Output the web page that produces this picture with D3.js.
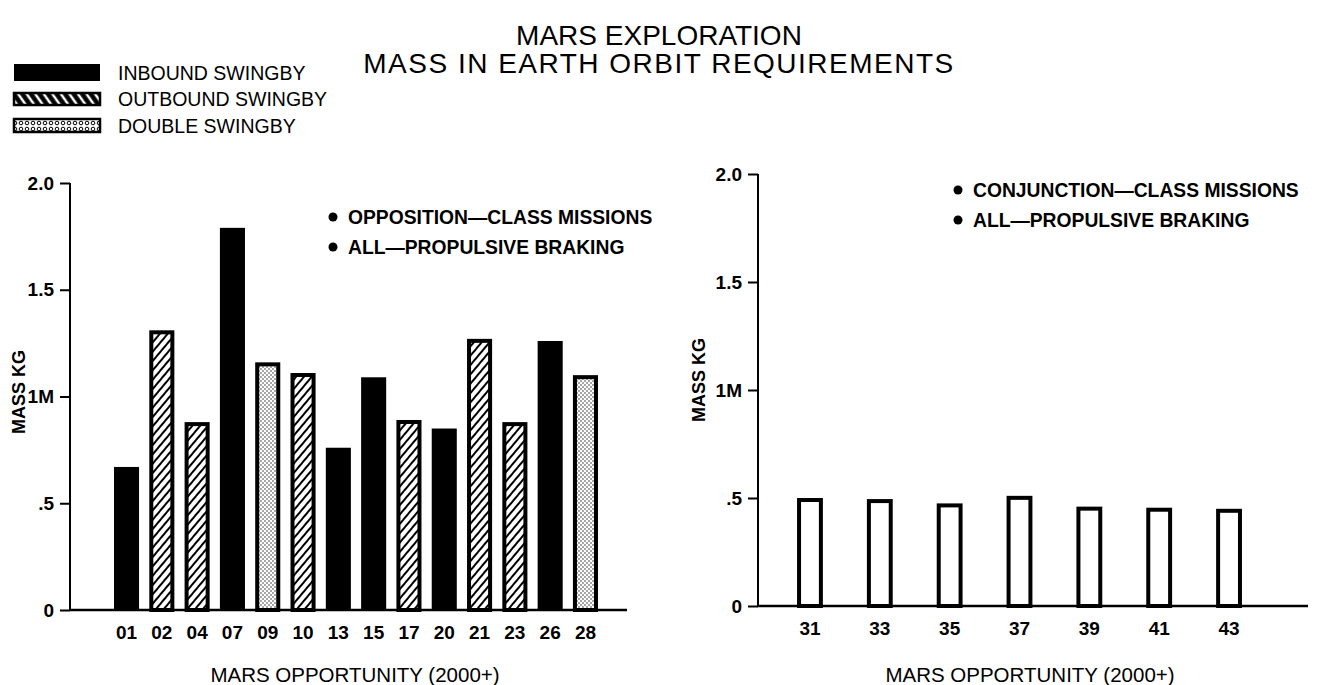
<!DOCTYPE html>
<html>
<head>
<meta charset="utf-8">
<script src="https://cdn.jsdelivr.net/npm/d3@7"></script>
<style>
  body { margin: 0; background: #fff; }
  svg { font-family: "Liberation Sans", Arial, sans-serif; }
</style>
</head>
<body>
<svg width="1317" height="685"></svg>
<script>
// opposition class (left panel)
var leftCats = ["01","02","04","07","09","10","13","15","17","20","21","23","26","28"];
var leftValues = [0.67, 1.31, 0.88, 1.79, 1.16, 1.11, 0.76, 1.09, 0.89, 0.85, 1.27, 0.88, 1.26, 1.10];
var leftTypes = ["in","out","out","in","double","out","in","in","out","in","out","out","in","double"];

// conjunction class (right panel)
var rightCats = ["31","33","35","37","39","41","43"];
var rightValues = [0.50, 0.495, 0.475, 0.51, 0.46, 0.455, 0.45];

var yTicks = [0, 0.5, 1, 1.5, 2];
var yTickLabels = ["0", ".5", "1M", "1.5", "2.0"];

var legendKeys = ["in", "out", "double"];
var legendLabels = ["INBOUND SWINGBY", "OUTBOUND SWINGBY", "DOUBLE SWINGBY"];

var leftNotes = ["OPPOSITION\u2014CLASS MISSIONS", "ALL\u2014PROPULSIVE BRAKING"];
var rightNotes = ["CONJUNCTION\u2014CLASS MISSIONS", "ALL\u2014PROPULSIVE BRAKING"];

var svg = d3.select("svg");

// patterns
var defs = svg.append("defs");
var hatch = defs.append("pattern")
    .attr("id", "hatch")
    .attr("patternUnits", "userSpaceOnUse")
    .attr("width", 6).attr("height", 6)
    .attr("patternTransform", "rotate(40)");
hatch.append("rect").attr("width", 6).attr("height", 6).attr("fill", "#fff");
hatch.append("line").attr("x1", 1).attr("y1", 0).attr("x2", 1).attr("y2", 6)
    .attr("stroke", "#000").attr("stroke-width", 2);

var dots = defs.append("pattern")
    .attr("id", "dots")
    .attr("patternUnits", "userSpaceOnUse")
    .attr("width", 4).attr("height", 4);
dots.append("rect").attr("width", 4).attr("height", 4).attr("fill", "#fff");
dots.append("circle").attr("cx", 1).attr("cy", 1).attr("r", 0.65).attr("fill", "#000");
dots.append("circle").attr("cx", 3).attr("cy", 3).attr("r", 0.65).attr("fill", "#000");

// legend hatch: white strokes on black
var hatchInv = defs.append("pattern")
    .attr("id", "hatchInv")
    .attr("patternUnits", "userSpaceOnUse")
    .attr("width", 7).attr("height", 7)
    .attr("patternTransform", "rotate(-35)");
hatchInv.append("rect").attr("width", 7).attr("height", 7).attr("fill", "#000");
hatchInv.append("line").attr("x1", 3).attr("y1", 0).attr("x2", 3).attr("y2", 7)
    .attr("stroke", "#fff").attr("stroke-width", 2.5);

var legendDots = defs.append("pattern")
    .attr("id", "legendDots")
    .attr("patternUnits", "userSpaceOnUse")
    .attr("width", 6).attr("height", 6);
legendDots.append("rect").attr("width", 6).attr("height", 6).attr("fill", "#fff");
legendDots.append("circle").attr("cx", 3).attr("cy", 3).attr("r", 1.8)
    .attr("fill", "none").attr("stroke", "#000").attr("stroke-width", 1);

function fillFor(t) {
  if (t == "in") return "#000";
  if (t == "out") return "url(#hatch)";
  return "url(#dots)";
}

// title
svg.append("text").attr("x", 659).attr("y", 45).attr("text-anchor", "middle")
    .style("font-size", "28px").text("MARS EXPLORATION");
svg.append("text").attr("x", 659).attr("y", 73).attr("text-anchor", "middle")
    .style("font-size", "28px").style("letter-spacing", "1.5px")
    .text("MASS IN EARTH ORBIT REQUIREMENTS");

// legend
var legendY = [64, 93, 119];
var legendH = [17, 12, 13];
var lg = svg.append("g").selectAll("g").data(legendKeys).enter().append("g");
lg.append("rect")
    .attr("x", 14).attr("width", 86)
    .attr("y", function(d, i) { return legendY[i]; })
    .attr("height", function(d, i) { return legendH[i]; })
    .attr("fill", function(d) { return d == "in" ? "#000" : d == "out" ? "url(#hatchInv)" : "url(#legendDots)"; })
    .attr("stroke", "#000")
    .attr("stroke-width", function(d) { return d == "in" ? 0 : 2.5; });
lg.append("text")
    .attr("x", 118)
    .attr("y", function(d, i) { return legendY[i] + legendH[i] / 2 + 7; })
    .style("font-size", "19.5px")
    .text(function(d, i) { return legendLabels[i]; });

function drawPanel(opt) {
  var g = svg.append("g");
  var y = d3.scaleLinear().domain([0, 2]).range([opt.y0, opt.y1]);
  var x = d3.scaleBand().domain(opt.cats).range([opt.axisX, opt.bandEnd])
      .paddingInner(opt.padIn).paddingOuter(opt.padOut);

  // y axis
  var yAxis = d3.axisLeft(y).tickValues(yTicks)
      .tickFormat(function(d, i) { return yTickLabels[i]; })
      .tickSize(10).tickPadding(6);
  var ya = g.append("g").attr("transform", "translate(" + opt.axisX + ",0)").call(yAxis);
  ya.select(".domain").attr("d", "M0," + y(2) + "V" + y(0)).attr("stroke-width", 2);
  ya.selectAll(".tick line").attr("stroke-width", 2);
  ya.selectAll(".tick text").style("font-size", "19px").style("font-weight", "bold")
      .style("font-family", "Liberation Sans, Arial, sans-serif").attr("fill", "#000");

  // baseline
  g.append("line").attr("x1", opt.axisX).attr("x2", opt.baseEnd)
      .attr("y1", y(0)).attr("y2", y(0)).attr("stroke", "#000").attr("stroke-width", 2.5);

  // bars
  var sw = 4;
  g.selectAll("rect.bar").data(opt.values).enter().append("rect")
      .attr("class", "bar")
      .attr("x", function(d, i) {
        var t = opt.types ? opt.types[i] : "hollow";
        return t == "in" ? x(opt.cats[i]) : x(opt.cats[i]) + sw / 2;
      })
      .attr("width", function(d, i) {
        var t = opt.types ? opt.types[i] : "hollow";
        return t == "in" ? x.bandwidth() : x.bandwidth() - sw;
      })
      .attr("y", function(d, i) {
        var t = opt.types ? opt.types[i] : "hollow";
        return t == "in" ? y(d) : y(d) + sw / 2;
      })
      .attr("height", function(d, i) {
        var t = opt.types ? opt.types[i] : "hollow";
        return t == "in" ? y(0) - y(d) : y(0) - y(d) - sw / 2;
      })
      .attr("fill", function(d, i) { return opt.types ? fillFor(opt.types[i]) : "#fff"; })
      .attr("stroke", "#000")
      .attr("stroke-width", function(d, i) { return opt.types && opt.types[i] == "in" ? 0 : sw; });

  // x axis labels
  var xa = g.append("g").attr("transform", "translate(0," + y(0) + ")")
      .call(d3.axisBottom(x).tickSize(0).tickPadding(16));
  xa.select(".domain").remove();
  xa.selectAll(".tick text").style("font-size", "19px").style("font-weight", "bold")
      .style("font-family", "Liberation Sans, Arial, sans-serif").attr("fill", "#000");

  // axis titles
  g.append("text").attr("transform", "translate(" + opt.yTitleX + "," + opt.yTitleY + ") rotate(-90)")
      .attr("text-anchor", "middle").style("font-size", "18px").style("font-weight", "bold")
      .text("MASS KG");
  g.append("text").attr("x", opt.xTitleX).attr("y", 682).attr("text-anchor", "middle")
      .style("font-size", "20.5px").text("MARS OPPORTUNITY (2000+)");

  // notes
  opt.notes.forEach(function(t, i) {
    var ny = opt.noteY + i * 30;
    g.append("circle").attr("cx", opt.noteX - 15).attr("cy", ny - 7).attr("r", 4.5).attr("fill", "#000");
    g.append("text").attr("x", opt.noteX).attr("y", ny).style("font-size", "19.3px")
        .style("font-weight", "bold").text(t);
  });
}

drawPanel({
  cats: leftCats, values: leftValues, types: leftTypes,
  y0: 610, y1: 183, axisX: 70, bandEnd: 642, padIn: 0.29, padOut: 1.246,
  baseEnd: 627, yTitleX: 25, yTitleY: 392, xTitleX: 355,
  notes: leftNotes, noteX: 348, noteY: 224
});

drawPanel({
  cats: rightCats, values: rightValues, types: null,
  y0: 606, y1: 174, axisX: 758, bandEnd: 1281, padIn: 0.63, padOut: 0.559,
  baseEnd: 1308, yTitleX: 705, yTitleY: 380, xTitleX: 1030,
  notes: rightNotes, noteX: 973, noteY: 197
});
</script>
</body>
</html>
